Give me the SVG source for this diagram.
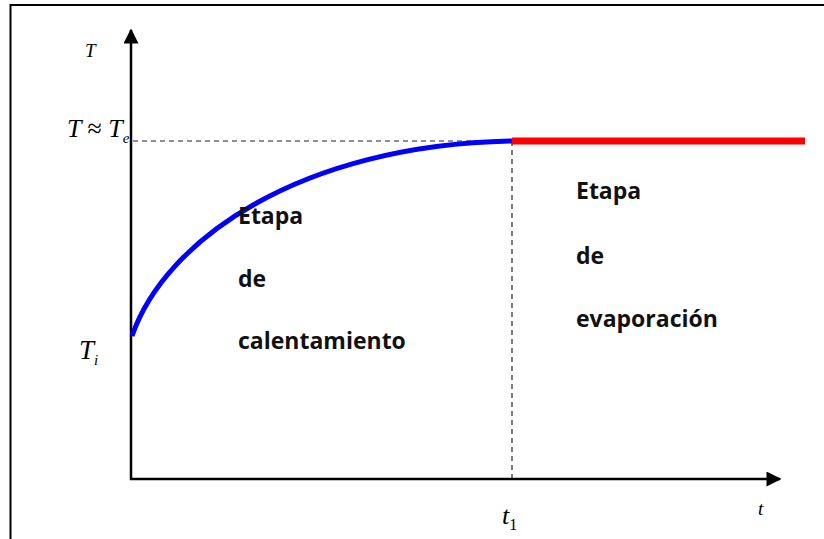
<svg xmlns="http://www.w3.org/2000/svg" width="824" height="539" viewBox="0 0 824 539">
<defs>
<marker id="arr" viewBox="0 0 10 10" refX="9" refY="5" markerWidth="6.5" markerHeight="6" orient="auto" markerUnits="strokeWidth">
<path d="M0,0 L10,5 L0,10 z" fill="#000"/>
</marker>
<style>
.axis{stroke:#000;stroke-width:2.5;fill:none}
.dash{stroke:#222;stroke-width:1.2;stroke-dasharray:5,4;fill:none}
.math{font-family:"Liberation Serif",serif;font-style:italic;fill:#000}
.lbl{font-family:"Open Sans","Liberation Sans",sans-serif;font-weight:bold;font-size:23px;fill:#111}
</style>
</defs>
<rect width="824" height="539" fill="#fff"/>
<path d="M10.5,539 V5 H824" stroke="#000" stroke-width="2" fill="none"/>
<g id="connectors">
<line class="axis" x1="131" y1="480" x2="131" y2="30" marker-end="url(#arr)"/>
<line class="axis" x1="130" y1="479" x2="780" y2="479" marker-end="url(#arr)"/>
<line class="dash" x1="133" y1="141" x2="512" y2="141"/>
<line class="dash" x1="512" y1="141" x2="512" y2="479"/>
<path d="M132,336 C165,240 300,145 512,141" stroke="#0000ff" stroke-width="5" fill="none"/>
<line x1="512" y1="141" x2="805" y2="141" stroke="#ff0000" stroke-width="7"/>
</g>
<g id="axis-labels">
<text class="math" x="85" y="57" font-size="19">T</text>
<text class="math" x="67" y="137" font-size="26">T <tspan font-style="normal">≈</tspan> T<tspan font-size="15" dy="6">e</tspan></text>
<text class="math" x="79" y="359" font-size="27">T<tspan font-size="15" dy="6">i</tspan></text>
<text class="math" x="502" y="524" font-size="26">t<tspan font-size="16" font-style="normal" dy="6">1</tspan></text>
<text class="math" x="758" y="515" font-size="19">t</text>
</g>
<g id="calentamiento">
<text class="lbl" x="238" y="224">Etapa</text>
<text class="lbl" x="238" y="287">de</text>
<text class="lbl" x="238" y="349">calentamiento</text>
</g>
<g id="evaporacion">
<text class="lbl" x="576" y="199">Etapa</text>
<text class="lbl" x="576" y="264">de</text>
<text class="lbl" x="576" y="327">evaporación</text>
</g>
</svg>
